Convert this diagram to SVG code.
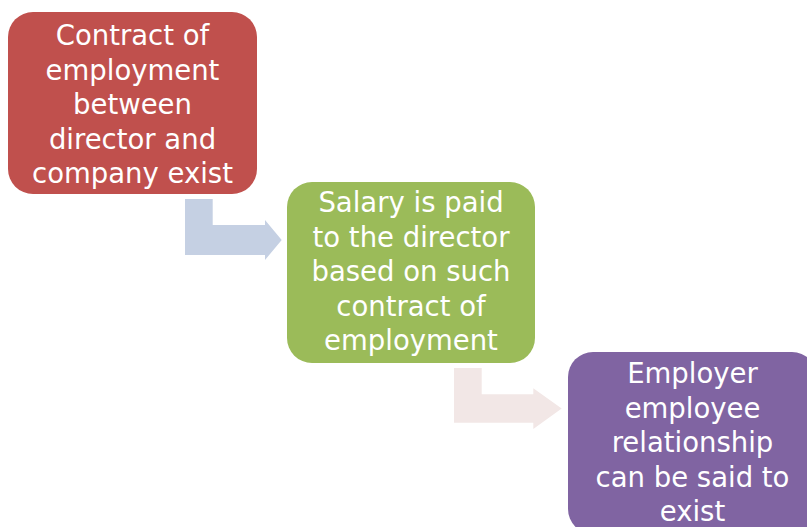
<svg xmlns="http://www.w3.org/2000/svg" width="807" height="527" viewBox="0 0 807 527">
  <style>
    .box-text { font-family: "DejaVu Sans", Verdana, sans-serif; font-size: 27.5px; fill: #FFFFFF; text-anchor: middle; }
  </style>
  <rect width="807" height="527" fill="#FFFFFF"/>

  <!-- bent connectors between the steps -->
  <g id="connectors">
    <path id="arrow-1-2" d="M185,199 L212.7,199 L212.7,225 L265,225 L265,220 L281.7,240 L265,260 L265,255 L185,255 Z" fill="#C5D0E3"/>
    <path id="arrow-2-3" d="M454,368 L481.7,368 L481.7,394.3 L533.3,394.3 L533.3,388.3 L561.7,408.5 L533.3,429 L533.3,422.7 L454,422.7 Z" fill="#F2E7E6"/>
  </g>

  <g id="step-contract">
    <rect x="8" y="12" width="249" height="182" rx="25" ry="25" fill="#C0504D"/>
    <text class="box-text" x="132.5" y="45">Contract of</text>
    <text class="box-text" x="132.5" y="79.5">employment</text>
    <text class="box-text" x="132.5" y="114">between</text>
    <text class="box-text" x="132.5" y="148.5">director and</text>
    <text class="box-text" x="132.5" y="183">company exist</text>
  </g>

  <g id="step-salary">
    <rect x="287" y="182" width="248" height="181" rx="25" ry="25" fill="#9BBB59"/>
    <text class="box-text" x="411" y="212">Salary is paid</text>
    <text class="box-text" x="411" y="246.5">to the director</text>
    <text class="box-text" x="411" y="281">based on such</text>
    <text class="box-text" x="411" y="315.5">contract of</text>
    <text class="box-text" x="411" y="350">employment</text>
  </g>

  <g id="step-relationship">
    <rect x="568" y="352" width="249" height="182" rx="25" ry="25" fill="#8064A2"/>
    <text class="box-text" x="692.5" y="383">Employer</text>
    <text class="box-text" x="692.5" y="417.5">employee</text>
    <text class="box-text" x="692.5" y="452">relationship</text>
    <text class="box-text" x="692.5" y="486.5">can be said to</text>
    <text class="box-text" x="692.5" y="521">exist</text>
  </g>
</svg>
